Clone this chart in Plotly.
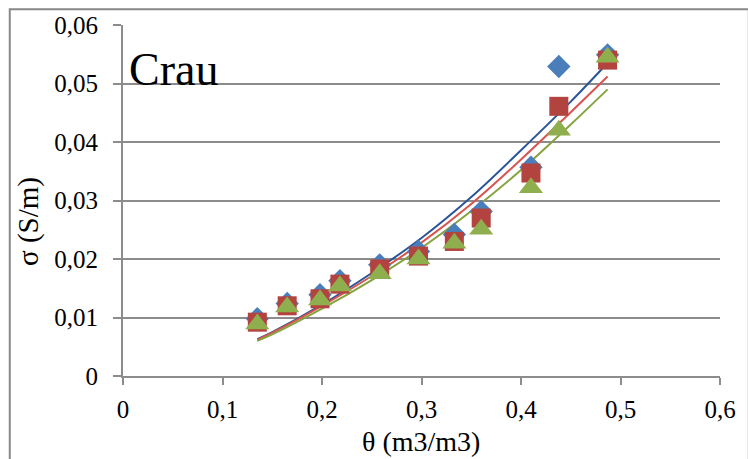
import plotly.graph_objects as go

# Measured water content (m3/m3) and conductivity (S/m), three series
theta = [0.135, 0.165, 0.198, 0.218, 0.258, 0.297, 0.333, 0.360, 0.410, 0.438, 0.487]
sigma_blue = [0.0098, 0.0124, 0.0139, 0.0163, 0.0190, 0.0213, 0.0242, 0.0281, 0.0357, 0.0529, 0.0549]
sigma_red = [0.0092, 0.0120, 0.0132, 0.0157, 0.0183, 0.0205, 0.0230, 0.0270, 0.0347, 0.0461, 0.0540]
sigma_green = [0.0089, 0.0118, 0.0130, 0.0154, 0.0175, 0.0200, 0.0227, 0.0251, 0.0322, 0.0420, 0.0545]

# Fitted trend curves, sampled along theta
fit_theta = [0.135, 0.15, 0.2, 0.25, 0.3, 0.35, 0.4, 0.45, 0.487]
fit_blue = [0.0063, 0.0075, 0.0122, 0.0176, 0.0236, 0.0306, 0.0386, 0.0469, 0.0535]
fit_red = [0.0062, 0.0074, 0.0120, 0.0171, 0.0228, 0.0294, 0.0370, 0.0451, 0.0512]
fit_green = [0.0060, 0.0071, 0.0115, 0.0164, 0.0219, 0.0282, 0.0352, 0.0430, 0.0490]

x_ticks = [0, 0.1, 0.2, 0.3, 0.4, 0.5, 0.6]
x_labels = ["0", "0,1", "0,2", "0,3", "0,4", "0,5", "0,6"]
y_ticks = [0, 0.01, 0.02, 0.03, 0.04, 0.05, 0.06]
y_labels = ["0", "0,01", "0,02", "0,03", "0,04", "0,05", "0,06"]

FONT = '"Liberation Serif", "DejaVu Serif", serif'

fig = go.Figure()

for fy, col in [(fit_blue, "#2A5597"), (fit_red, "#D9534F"), (fit_green, "#86A33F")]:
    fig.add_trace(go.Scatter(x=fit_theta, y=fy, mode="lines",
                             line=dict(color=col, width=2, shape="spline"),
                             showlegend=False, hoverinfo="skip"))

fig.add_trace(go.Scatter(x=theta, y=sigma_blue, mode="markers",
                         marker=dict(symbol="diamond", size=18, color="#4A7EBB",
                                     line=dict(width=0)), showlegend=False))
fig.add_trace(go.Scatter(x=theta, y=sigma_red, mode="markers",
                         marker=dict(symbol="square", size=19, color="#B3433F",
                                     line=dict(width=0)), showlegend=False))
fig.add_trace(go.Scatter(x=theta, y=sigma_green, mode="markers",
                         marker=dict(symbol="triangle-up", size=21, color="#8FAE4E",
                                     line=dict(width=0)), showlegend=False))

L, R, T, B = 123, 24, 22, 83
W, H = 748, 459
pw, ph = W - L - R, H - T - B

fig.update_layout(
    width=W, height=H,
    margin=dict(l=L, r=R, t=T, b=B, pad=0),
    paper_bgcolor="white", plot_bgcolor="white",
    font=dict(family=FONT, size=25, color="black"),
    xaxis=dict(range=[0, 0.6], tickvals=x_ticks, ticktext=x_labels,
               showgrid=False, zeroline=False, showline=True,
               linecolor="#8C8C8C", linewidth=2, ticks="outside",
               ticklen=7, tickwidth=2, tickcolor="#8C8C8C",
               ticklabelstandoff=3),
    yaxis=dict(range=[0, 0.06], tickvals=y_ticks, ticktext=y_labels,
               showgrid=True, gridcolor="#8C8C8C", gridwidth=2,
               zeroline=False, showline=True,
               linecolor="#8C8C8C", linewidth=2, ticks="outside",
               ticklen=8, tickwidth=2, tickcolor="#8C8C8C",
               ticklabelstandoff=10),
    annotations=[
        dict(text="Crau", xref="paper", yref="paper",
             x=(127 - L) / pw, y=(H - B - 67) / ph,
             xanchor="left", yanchor="middle", showarrow=False,
             font=dict(family=FONT, size=46, color="black")),
        dict(text="θ (m3/m3)", xref="paper", yref="paper",
             x=(423 - L) / pw, y=(H - B - 442) / ph,
             xanchor="center", yanchor="middle", showarrow=False,
             borderpad=0,
             font=dict(family=FONT, size=28, color="black")),
        dict(text="σ (S/m)", xref="paper", yref="paper",
             x=(28 - L) / pw, y=(H - B - 220) / ph, textangle=-90,
             xanchor="center", yanchor="middle", showarrow=False,
             font=dict(family=FONT, size=29, color="black")),
    ],
    shapes=[
        dict(type="rect", xref="paper", yref="paper",
             x0=(9 - L) / pw, x1=(W + 5 - L) / pw,
             y0=(H - B - (H + 5)) / ph, y1=(H - B - 6) / ph,
             line=dict(color="#888888", width=2), fillcolor="rgba(0,0,0,0)",
             layer="below"),
    ],
)

fig.write_html("out.html")
